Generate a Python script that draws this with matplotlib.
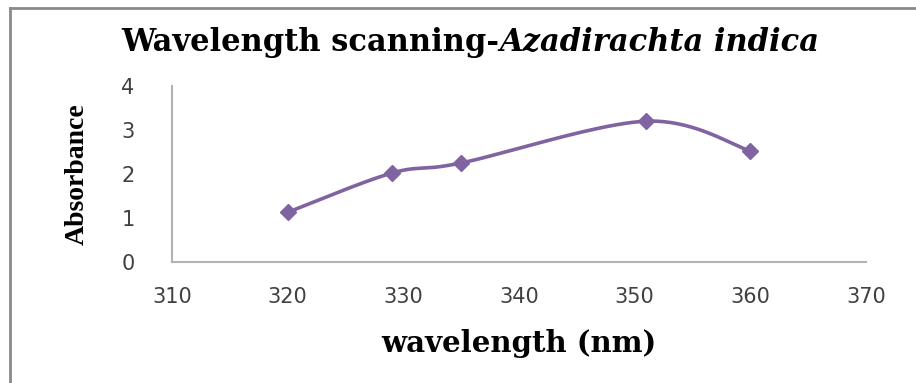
import numpy as np
import matplotlib
matplotlib.use('Agg')
import matplotlib.pyplot as plt
from matplotlib.lines import Line2D

# data
wavelength = [320, 329, 335, 351, 360]
absorbance = [1.13, 2.02, 2.25, 3.2, 2.52]
x_ticks = [310, 320, 330, 340, 350, 360, 370]
y_ticks = [0, 1, 2, 3, 4]


def excel_smooth(xs, ys, n=40):
    # cubic bezier through the points, excel style (tension 1/6)
    pts = np.column_stack([xs, ys]).astype(float)
    out = []
    for i in range(len(pts) - 1):
        p0 = pts[i - 1] if i > 0 else pts[i]
        p1 = pts[i]
        p2 = pts[i + 1]
        p3 = pts[i + 2] if i + 2 < len(pts) else pts[i + 1]
        c1 = p1 + (p2 - p0) / 6.0
        c2 = p2 - (p3 - p1) / 6.0
        t = np.linspace(0, 1, n)[:, None]
        seg = ((1 - t) ** 3) * p1 + 3 * ((1 - t) ** 2) * t * c1 + 3 * (1 - t) * t ** 2 * c2 + t ** 3 * p2
        out.append(seg if i == 0 else seg[1:])
    out = np.vstack(out)
    return out[:, 0], out[:, 1]


fig = plt.figure(figsize=(9.16, 3.83), dpi=100)
ax = fig.add_axes([0.1878, 0.316, 0.7576, 0.4595])

purple = '#8064A2'
sx, sy = excel_smooth(wavelength, absorbance)
ax.plot(sx, sy, color=purple, lw=2.6, solid_capstyle='round')
ax.plot(wavelength, absorbance, ls='none', marker='D', ms=8.5, color=purple)

ax.set_xlim(310, 370)
ax.set_ylim(0, 4)
ax.set_xticks(x_ticks)
ax.set_yticks(y_ticks)
ax.tick_params(length=0, labelsize=15, labelcolor='#404040')
ax.tick_params(axis='x', pad=18)
ax.tick_params(axis='y', pad=27)

for s in ['top', 'right']:
    ax.spines[s].set_visible(False)
for s in ['left', 'bottom']:
    ax.spines[s].set_color('#b3b3b3')
    ax.spines[s].set_linewidth(1.5)

# title: upright part + italic species name, centred as a pair
wide = 'DejaVu Serif'
t1 = fig.text(0, 0.89, 'Wavelength scanning-', ha='left', va='center',
              family=wide, weight='bold', fontsize=22)
t2 = fig.text(0, 0.89, 'Azadirachta indica', ha='left', va='center',
              family=wide, weight='bold', style='italic', fontsize=22)
r = fig.canvas.get_renderer()
w1 = t1.get_window_extent(r).width / fig.bbox.width
w2 = t2.get_window_extent(r).width / fig.bbox.width
x0 = 470 / 916 - (w1 + w2) / 2
t1.set_x(x0)
t2.set_x(x0 + w1)

ax.set_xlabel('wavelength (nm)', family=wide, weight='bold', fontsize=21, labelpad=16)
ax.set_ylabel('Absorbance', family='Liberation Serif', weight='bold', fontsize=20, labelpad=23)

# outer frame (top and left edges)
fig.add_artist(Line2D([0.011, 1.0], [0.979, 0.979], transform=fig.transFigure, color='#8a8a8a', lw=2))
fig.add_artist(Line2D([0.011, 0.011], [0.0, 0.979], transform=fig.transFigure, color='#8a8a8a', lw=2))

fig.savefig('out.png', dpi=100)
